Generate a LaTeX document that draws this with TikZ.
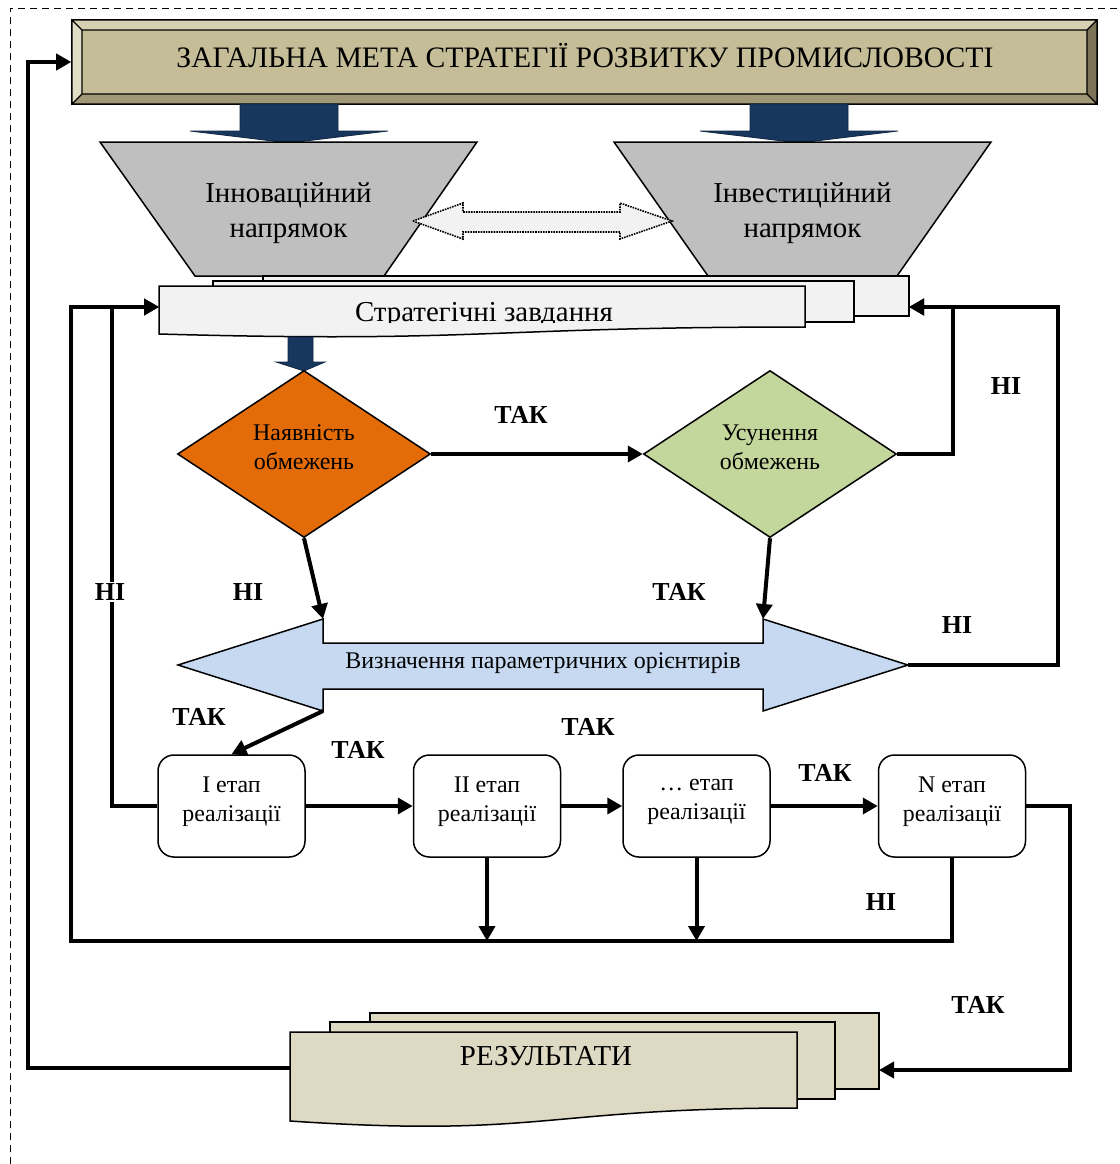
\documentclass[tikz,border=0pt]{standalone}
\usepackage{fontspec}
\setmainfont{Liberation Serif}
\usetikzlibrary{shapes.geometric,arrows.meta,positioning}
\definecolor{tanface}{HTML}{C4BD97}
\definecolor{tanlight}{HTML}{D7D0B3}
\definecolor{tanside}{HTML}{E1DCC4}
\definecolor{tandark}{HTML}{A19878}
\definecolor{tandeep}{HTML}{7B7458}
\definecolor{resfill}{HTML}{DDD9C3}
\definecolor{navy}{HTML}{17375E}
\definecolor{funnelgray}{HTML}{BFBFBF}
\definecolor{pagegray}{HTML}{F2F2F2}
\definecolor{orangefill}{HTML}{E36C09}
\definecolor{greenfill}{HTML}{C3D69B}
\definecolor{bluefill}{HTML}{C6D9F1}
\newcommand{\fstitle}{\fontsize{29.8}{35}\selectfont}
\newcommand{\fsbig}{\fontsize{29}{35}\selectfont}
\newcommand{\fsmid}{\fontsize{24}{29}\selectfont}

\begin{document}
\begin{tikzpicture}[x=1bp,y=-1bp,
                conn/.style = {line width=4bp, -{Triangle[length=15bp,width=16bp]}},
                lbl/.style = {font=\fontsize{26}{26}\selectfont\bfseries, inner sep=2bp},
                edgeline/.style = {line width=1.5bp},
                decide/.style = {diamond, draw, line width=1.5bp, minimum width=253bp, minimum height=167bp, inner sep=0pt, align=center, font=\fsmid, text depth=14bp},
                stagebox/.style = {draw, line width=1.5bp, rounded corners=16bp, fill=white, minimum width=147bp, minimum height=102bp, align=center, font=\fsmid, text depth=14bp},
                page/.style = {draw, line width=1.5bp, fill=pagegray},
                respage/.style = {draw, line width=1.5bp, fill=resfill},
                navyarrow/.style = {fill=navy, draw=navy!70!black, line width=0.8bp},
                funnel/.style = {draw, line width=1.5bp, fill=funnelgray}]
    \useasboundingbox (0,0) rectangle (1120,1164);
    % dashed frame
    \draw[dashed, dash pattern=on 7bp off 5bp, line width=1bp] (10,1164) -- (10,8) -- (1120,8);

    % general goal
    \node[draw, line width=1.5bp, fill=tanface, minimum width=1025bp, minimum height=84bp, inner sep=0pt] (goal) at (584.5,62) {};
    \fill[tanlight] (72,20) -- (1097,20) -- (1087,30) -- (82,30) -- cycle;
    \fill[tanside] (72,20) -- (82,30) -- (82,94) -- (72,104) -- cycle;
    \fill[tandark] (72,104) -- (82,94) -- (1087,94) -- (1097,104) -- cycle;
    \fill[tandeep] (1097,20) -- (1087,30) -- (1087,94) -- (1097,104) -- cycle;
    \draw[line width=1.2bp] (72,20) rectangle (1097,104) (82,30) rectangle (1087,94)
        (72,20) -- (82,30) (1097,20) -- (1087,30) (72,104) -- (82,94) (1097,104) -- (1087,94);
    \node[font=\fstitle] (goaltext) at (585,56) {ЗАГАЛЬНА МЕТА СТРАТЕГІЇ РОЗВИТКУ ПРОМИСЛОВОСТІ};

    % two directions
    \filldraw[navyarrow] (240,104) -- (338,104) -- (338,131) -- (388,131) -- (289,143) -- (190,131) -- (240,131) -- cycle;
    \filldraw[navyarrow] (750,104) -- (848,104) -- (848,131) -- (898,131) -- (799,143) -- (700,131) -- (750,131) -- cycle;
    \filldraw[funnel] (100,142) -- (477,142) -- (384,276) -- (195,276) -- cycle;
    \filldraw[funnel] (614,142) -- (991,142) -- (897,276) -- (708,276) -- cycle;
    \node[font=\fsbig, align=center] (innov) at (288.5,213) {Інноваційний\\напрямок};
    \node[font=\fsbig, align=center] (invest) at (802.5,213) {Інвестиційний\\напрямок};
    \filldraw[densely dotted, line width=1.6bp, fill=pagegray]
        (413,221) -- (463,203) -- (463,212) -- (620,212) -- (620,203) -- (672,221)
        -- (620,239) -- (620,232) -- (463,232) -- (463,239) -- cycle;

    % strategic tasks
    \filldraw[page] (263,276) rectangle (909,316);
    \filldraw[page] (213,281) rectangle (854,322);
    \filldraw[page] (159,286) -- (805,286) -- (805,327) .. controls (482,327) and (482,343) .. (159,334) -- cycle;
    \begin{scope}
        \clip (159,287) rectangle (805,322);
        \node[font=\fsbig, anchor=base] (tasks) at (484,321) {Стратегічні завдання};
    \end{scope}
    \coordinate (stratL) at (159,307);
    \coordinate (stratR) at (909,307);
    \filldraw[navyarrow] (288,337) -- (313,337) -- (313,362) -- (325,362) -- (304,371) -- (276,362) -- (288,362) -- cycle;

    % decisions
    \node[decide, fill=orangefill] (d1) at (304,454) {Наявність\\обмежень};
    \node[decide, fill=greenfill] (d2) at (770,454) {Усунення\\обмежень};

    % parametric guidelines
    \filldraw[edgeline, draw=black, fill=bluefill] (178,665) -- (323,619) -- (323,643) -- (763,643) -- (763,619) -- (908,665)
        -- (763,711) -- (763,689) -- (323,689) -- (323,711) -- cycle;
    \node[font=\fsmid] (orient) at (543,663) {Визначення параметричних орієнтирів};
    \coordinate (orNW) at (323,619);
    \coordinate (orNE) at (763,619);
    \coordinate (orSW) at (323,711);
    \coordinate (orE) at (908,665);

    % stages
    \node[stagebox] (s1) at (231.5,806) {І етап\\реалізації};
    \node[stagebox] (s2) at (487,806) {ІІ етап\\реалізації};
    \node[stagebox] (s3) at (696.5,806) {… етап\\реалізації};
    \node[stagebox] (sN) at (952,806) {N етап\\реалізації};

    % results
    \filldraw[respage] (370,1013) rectangle (879,1089);
    \filldraw[respage] (330,1022) rectangle (835,1099);
    \filldraw[respage] (290,1032) -- (797,1032) -- (797,1108) .. controls (543,1108) and (543,1138) .. (290,1121) -- cycle;
    \node[font=\fsbig] (res) at (546,1056) {РЕЗУЛЬТАТИ};
    \coordinate (resL) at (290,1068);
    \coordinate (resR) at (879,1070);

    % connectors
    \draw[conn] (d1.east) -- (d2.west);
    \draw[conn] (d2.east) -| ([xshift=44bp]stratR) -- (stratR);
    \draw[conn] (orE) -| ([xshift=149bp]stratR) -- (stratR);
    \draw[conn] (d1.south) -- (orNW);
    \draw[conn] (d2.south) -- (orNE);
    \draw[conn] (orSW) -- (s1.north);
    \draw[conn] (s1.east) -- (s2.west);
    \draw[conn] (s2.east) -- (s3.west);
    \draw[conn] (s3.east) -- (sN.west);
    \draw[conn] (s1.west) -| ([xshift=-47bp]stratL) -- (stratL);
    \draw[conn] (sN.south) |- (71,941) |- (stratL);
    \draw[conn] (s2.south) -- (s2.south |- 0,941);
    \draw[conn] (s3.south) -- (s3.south |- 0,941);
    \draw[conn] (sN.east) -| (1070,1070) -- (resR);
    \draw[conn] (resL) -| (28,62) -- (goal.west);

    % labels
    \node[lbl] (yes1) at (521,415) {ТАК};
    \node[lbl] (no1) at (1006,386) {НІ};
    \node[lbl] (no2) at (957,625) {НІ};
    \node[lbl] (no3) at (248,592) {НІ};
    \node[lbl] (yes2) at (679,592) {ТАК};
    \node[lbl, fill=white] (no4) at (110,592) {НІ};
    \node[lbl] (yes3) at (199,717) {ТАК};
    \node[lbl] (yes4) at (358,750) {ТАК};
    \node[lbl] (yes5) at (588,727) {ТАК};
    \node[lbl] (yes6) at (825,773) {ТАК};
    \node[lbl] (no5) at (881,902) {НІ};
    \node[lbl] (yes7) at (978,1005) {ТАК};
\end{tikzpicture}
\end{document}
